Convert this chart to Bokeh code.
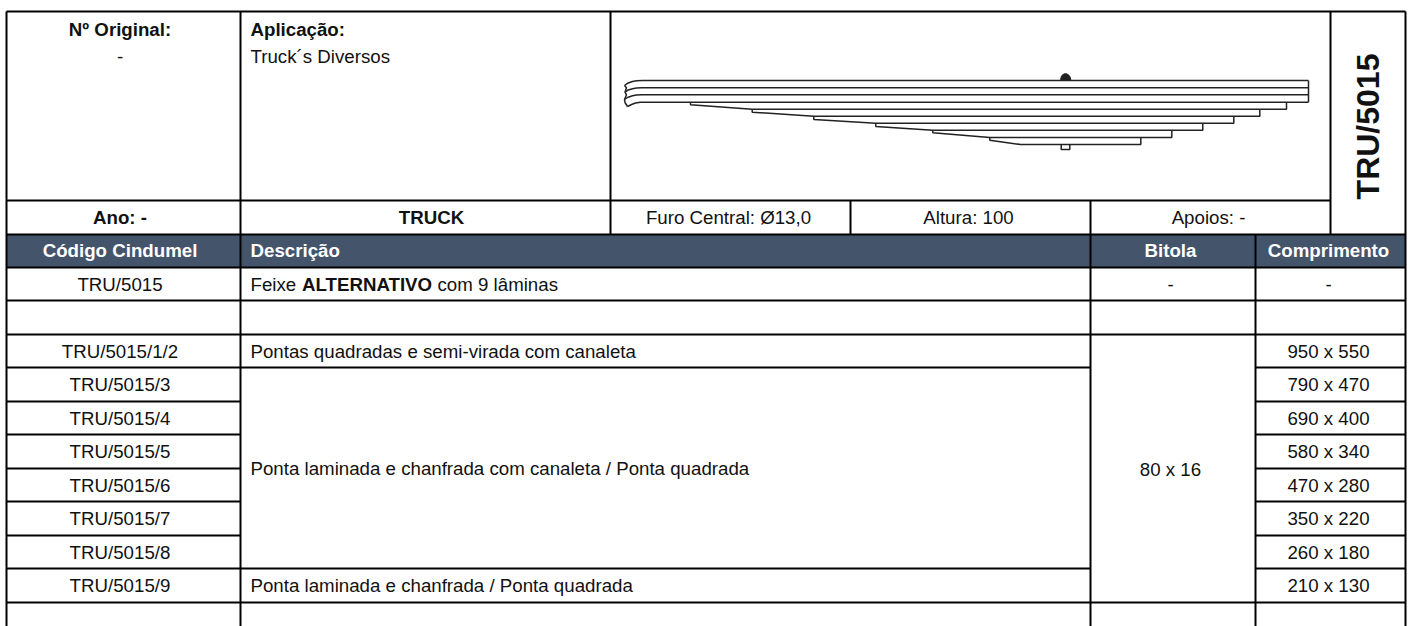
from bokeh.plotting import figure
from bokeh.models import Range1d
from bokeh.core.properties import value
from bokeh.embed import file_html
from bokeh.resources import INLINE

# ---- content
codes = ["TRU/5015", "", "TRU/5015/1/2", "TRU/5015/3", "TRU/5015/4", "TRU/5015/5",
         "TRU/5015/6", "TRU/5015/7", "TRU/5015/8", "TRU/5015/9"]
lengths = ["-", "", "950 x 550", "790 x 470", "690 x 400", "580 x 340",
           "470 x 280", "350 x 220", "260 x 180", "210 x 130"]
headers = ["Código Cindumel", "Descrição", "Bitola", "Comprimento"]
desc_a = "Pontas quadradas e semi-virada com canaleta"
desc_b = "Ponta laminada e chanfrada com canaleta / Ponta quadrada"
desc_c = "Ponta laminada e chanfrada / Ponta quadrada"
gauge = "80 x 16"

# ---- layout (pixels in the page)
W, H = 1408, 626
L, C1, C2, C3, C4, C5, C6, C7 = 6, 240, 610, 850, 1090, 1255, 1330, 1405
Y_TOP, Y_SUB, Y_HEAD, Y_BODY = 11, 200, 234, 267
ROW = 33.47
rows_y = [round(Y_BODY + ROW * i) for i in range(11)]
CX0, CX1, CX2, CX3 = 119.5, 431, 1170, 1328
FONT = value("Liberation Sans")
INK = "#111111"
FS = "18.7px"

p = figure(width=W, height=H, x_range=Range1d(0, W), y_range=Range1d(H, 0),
           x_axis_type=None, y_axis_type=None, toolbar_location=None,
           output_backend="svg", min_border=0, outline_line_color=None)
p.grid.visible = False
p.styles = {"position": "absolute", "left": "0px", "top": "0px"}

p.quad(left=[L], right=[C7], top=[Y_HEAD], bottom=[Y_BODY], fill_color="#44546A", line_color=None)

# ---- grid lines
h = [(L, C7, Y_TOP), (L, C6, Y_SUB), (L, C7, Y_HEAD), (L, C7, Y_BODY),
     (L, C7, rows_y[1]), (L, C7, rows_y[2]), (L, C4, rows_y[3]), (C5, C7, rows_y[3]),
     (C5, C7, rows_y[4]), (C5, C7, rows_y[5]), (C5, C7, rows_y[6]), (C5, C7, rows_y[7]),
     (C5, C7, rows_y[8]), (L, C4, rows_y[9]), (C5, C7, rows_y[9]), (L, C7, rows_y[10])]
for i in range(4, 9):
    h.append((L, C1, rows_y[i]))
v = [(L, Y_TOP, H), (C1, Y_TOP, H), (C2, Y_TOP, Y_HEAD), (C3, Y_SUB, Y_HEAD),
     (C4, Y_SUB, H), (C5, Y_HEAD, H), (C6, Y_TOP, Y_HEAD), (C7, Y_TOP, H)]
p.segment(x0=[a for a, b, y in h], x1=[b for a, b, y in h], y0=[y for a, b, y in h],
          y1=[y for a, b, y in h], line_color="#000000", line_width=2)
p.segment(x0=[x for x, a, b in v], x1=[x for x, a, b in v], y0=[a for x, a, b in v],
          y1=[b for x, a, b in v], line_color="#000000", line_width=2)


def txt(x, y, s, align="left", bold=False, color=INK, size=FS, angle=0):
    p.text(x=[x], y=[y], text=[s], text_align=align, text_baseline="middle",
           text_font=FONT, text_font_size=size, text_color=color, angle=angle,
           text_font_style="bold" if bold else "normal")


# ---- top block
txt(CX0, 29, "Nº Original:", "center", True)
txt(CX0, 56, "-", "center")
txt(250, 29, "Aplicação:", bold=True)
txt(250, 56, "Truck´s Diversos")
MID = 217
txt(CX0, MID, "Ano: -", "center", True)
txt(CX1, MID, "TRUCK", "center", True)
txt(728, MID, "Furo Central: Ø13,0", "center")
txt(968, MID, "Altura: 100", "center")
txt(1208, MID, "Apoios: -", "center")
txt(1367.5, 126, "TRU/5015", "center", True, size="32px", angle=1.5708)

# ---- header
HM = 250
txt(CX0, HM, headers[0], "center", True, "#FFFFFF")
txt(250, HM, headers[1], bold=True, color="#FFFFFF")
txt(CX2, HM, headers[2], "center", True, "#FFFFFF")
txt(CX3, HM, headers[3], "center", True, "#FFFFFF")

# ---- body
for i, (c, l) in enumerate(zip(codes, lengths)):
    ym = rows_y[i] + ROW / 2 + 0.5
    if c:
        txt(CX0, ym, c, "center")
    if l:
        txt(CX3, ym, l, "center")
y0 = rows_y[0] + ROW / 2 + 0.5
txt(250, y0, "Feixe")
txt(301.5, y0, "ALTERNATIVO", bold=True)
txt(437, y0, "com 9 lâminas")
txt(CX2, y0, "-", "center")
txt(250, rows_y[2] + ROW / 2 + 0.5, desc_a)
txt(250, (rows_y[3] + rows_y[9]) / 2 + 0.5, desc_b)
txt(250, rows_y[9] + ROW / 2 + 0.5, desc_c)
txt(CX2, (rows_y[2] + rows_y[10]) / 2 + 0.5, gauge, "center")

# ---- leaf spring drawing
S = "#222222"
SW = 1.5
leaf_y = [80, 87.3, 94.3, 101.7, 108.7, 115.7, 122.7, 129.7, 137, 144]
xs, ys = [], []
curls = [([624, 627, 632, 636, 642], [85, 82.8, 81, 80.2, 80]),
         ([624.5, 627, 632, 636, 641], [91.7, 89.8, 88.2, 87.5, 87.3]),
         ([624, 627, 632, 636, 641], [99, 97, 95.3, 94.5, 94.3]),
         ([627, 631, 635, 640], [106, 104, 102.5, 101.7])]
for (cx, cy), y in zip(curls, leaf_y):
    xs.append(cx + [1308])
    ys.append(cy + [y])
xs += [[624, 626, 624.5, 626, 624, 624.5, 627]]
ys += [[85, 87.3, 91.7, 94.3, 99, 102, 106]]
xs.append([1308, 1308])
ys.append([80, 101.7])
steps = [(690, 104.3, 751.7, 108.7, 1286),
         (751.7, 111.7, 813.3, 115.7, 1259.3),
         (813.3, 119, 875.3, 122.7, 1233.3),
         (875.3, 126, 932.3, 129.7, 1202.3),
         (932.3, 132.3, 989.3, 137, 1171.3),
         (989.3, 139.7, 1020, 144, 1140.3)]
top = [101.7, 108.7, 115.7, 122.7, 129.7, 137]
for t, (sx, ly, fx, fy, rx) in zip(top, steps):
    xs.append([sx, sx, fx, rx, rx])
    ys.append([t, ly, fy, fy, t])
xs.append([1060.7, 1060.7, 1069.3, 1069.3])
ys.append([144, 149, 149, 144])
p.multi_line(xs=xs, ys=ys, line_color=S, line_width=SW)
p.patch(x=[1060, 1060.6, 1062, 1064, 1066, 1068, 1069.6, 1070.5],
        y=[80, 76.5, 74.3, 73.3, 73.3, 74.3, 76.5, 80],
        fill_color="#222222", line_color=S, line_width=1)

open("out.html", "w").write(file_html(p, INLINE))
